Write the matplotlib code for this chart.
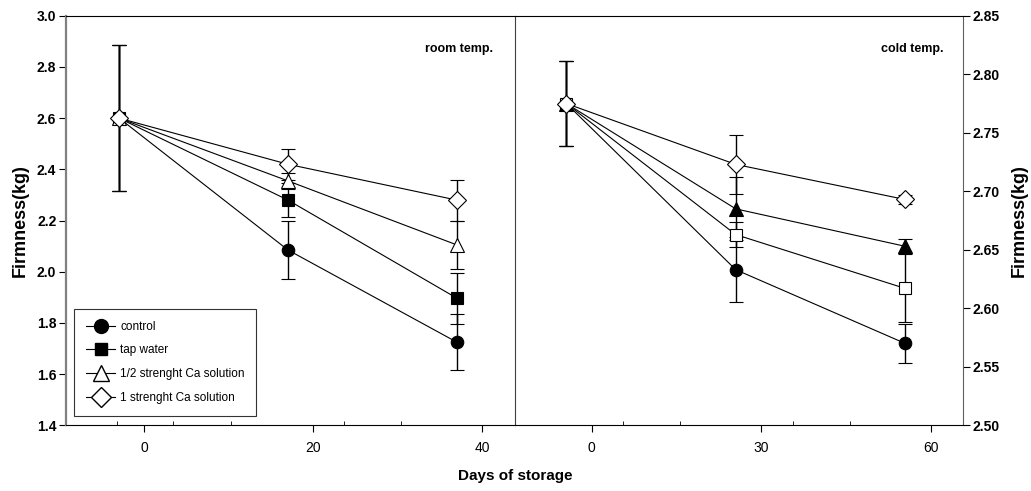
import matplotlib
matplotlib.use('Agg')
import matplotlib.pyplot as plt
from matplotlib.lines import Line2D

plt.rcParams['font.family'] = ['Liberation Sans', 'DejaVu Sans']

# storage days (as plotted) for each panel
room_days = [-3, 17, 37]
cold_days = [-4.5, 25.5, 55.5]

# room temperature firmness (kg) and standard errors
room_control = [2.60, 2.085, 1.725]
room_control_err = [0.285, 0.115, 0.11]
room_tap = [2.60, 2.28, 1.897]
room_tap_err = [0.285, 0.065, 0.10]
room_half = [2.60, 2.355, 2.105]
room_half_err = [0.285, 0.03, 0.095]
room_full = [2.60, 2.42, 2.28]
room_full_err = [0.285, 0.06, 0.08]

# cold temperature firmness (kg) and standard errors
cold_control = [2.775, 2.633, 2.570]
cold_control_err = [0.036, 0.028, 0.017]
cold_tap = [2.775, 2.663, 2.617]
cold_tap_err = [0.036, 0.011, 0.029]
cold_half = [2.775, 2.685, 2.653]
cold_half_err = [0.036, 0.027, 0.006]
cold_full = [2.775, 2.723, 2.693]
cold_full_err = [0.036, 0.025, 0.004]

labels = ['control', 'tap water', '1/2 strenght Ca solution', '1 strenght Ca solution']

fig = plt.figure(figsize=(10.31, 4.91), dpi=100)
ax1 = fig.add_axes([0.064, 0.1338, 0.4355, 0.834])
ax2 = fig.add_axes([0.4995, 0.1338, 0.4348, 0.834])


def draw(ax, x, y, err, marker, face, ms):
    ax.errorbar(x, y, yerr=err, color='black', lw=0.8, marker=marker, ms=ms,
                mfc=face, mec='black', mew=0.8, ecolor='black', elinewidth=1.0,
                capsize=5, capthick=1.0, zorder=3)


# room temp panel
draw(ax1, room_days, room_control, room_control_err, 'o', 'black', 9)
draw(ax1, room_days, room_tap, room_tap_err, 's', 'black', 8)
draw(ax1, room_days, room_half, room_half_err, '^', 'white', 10)
draw(ax1, room_days, room_full, room_full_err, 'D', 'white', 9)

# cold temp panel
draw(ax2, cold_days, cold_control, cold_control_err, 'o', 'black', 9)
draw(ax2, cold_days, cold_tap, cold_tap_err, 's', 'white', 8)
draw(ax2, cold_days, cold_half, cold_half_err, '^', 'black', 10)
draw(ax2, cold_days, cold_full, cold_full_err, 'D', 'white', 9)

ax1.set_xlim(-9.3, 43.9)
ax1.set_ylim(1.4, 3.0)
ax1.set_xticks([0, 20, 40])
ax1.set_yticks([1.4, 1.6, 1.8, 2.0, 2.2, 2.4, 2.6, 2.8, 3.0])
ax1.set_yticklabels(['1.4', '1.6', '1.8', '2.0', '2.2', '2.4', '2.6', '2.8', '3.0'])
ax1.set_xticks([-3.3, 3.4, 10.3, 23.7, 30.4], minor=True)
ax1.tick_params(axis='x', which='major', direction='out', length=5, labelsize=10, pad=6)
ax1.tick_params(axis='x', which='minor', direction='in', length=3)
ax1.tick_params(axis='y', direction='out', length=5, labelsize=10, pad=2)
for lab in ax1.get_yticklabels():
    lab.set_fontweight('bold')
ax1.spines['left'].set_color('#808080')
ax1.spines['left'].set_linewidth(1.6)
ax1.spines['right'].set_visible(False)
ax1.set_ylabel('Firmness(kg)', fontsize=13, fontweight='bold', labelpad=6)
ax1.text(0.95, 0.92, 'room temp.', transform=ax1.transAxes, ha='right', va='center',
         fontsize=9, fontweight='bold')

ax2.set_xlim(-13.6, 65.8)
ax2.set_ylim(2.50, 2.85)
ax2.set_xticks([0, 30, 60])
ax2.set_xticks([5.5, 15.6, 35.6, 45.7], minor=True)
ax2.set_yticks([2.50, 2.55, 2.60, 2.65, 2.70, 2.75, 2.80, 2.85])
ax2.set_yticklabels(['2.50', '2.55', '2.60', '2.65', '2.70', '2.75', '2.80', '2.85'])
ax2.yaxis.tick_right()
ax2.yaxis.set_label_position('right')
ax2.tick_params(axis='x', which='major', direction='out', length=5, labelsize=10, pad=6)
ax2.tick_params(axis='x', which='minor', direction='in', length=3)
ax2.tick_params(axis='y', direction='out', length=5, labelsize=10, pad=2)
for lab in ax2.get_yticklabels():
    lab.set_fontweight('bold')
ax2.spines['right'].set_color('#606060')
ax2.spines['left'].set_color('#404040')
ax2.set_ylabel('Firmness(kg)', fontsize=13, fontweight='bold', rotation=90, labelpad=8)
ax2.text(0.955, 0.92, 'cold temp.', transform=ax2.transAxes, ha='right', va='center',
         fontsize=9, fontweight='bold')

fig.text(0.4995, 0.03, 'Days of storage', ha='center', va='center', fontsize=11, fontweight='bold')

# legend
handles = [
    Line2D([], [], color='black', lw=0.8, marker='o', ms=10, mfc='black', mec='black'),
    Line2D([], [], color='black', lw=0.8, marker='s', ms=9, mfc='black', mec='black'),
    Line2D([], [], color='black', lw=0.8, marker='^', ms=11, mfc='white', mec='black'),
    Line2D([], [], color='black', lw=0.8, marker='D', ms=10, mfc='white', mec='black'),
]
leg = ax1.legend(handles, labels, loc='lower left', bbox_to_anchor=(0.018, 0.023),
                 borderaxespad=0, fontsize=8.5, frameon=True, fancybox=False,
                 edgecolor='black', handlelength=2.5, handletextpad=0.4,
                 labelspacing=1.0, borderpad=1.0)
leg.get_frame().set_linewidth(0.8)

fig.savefig('out.png', dpi=100)
